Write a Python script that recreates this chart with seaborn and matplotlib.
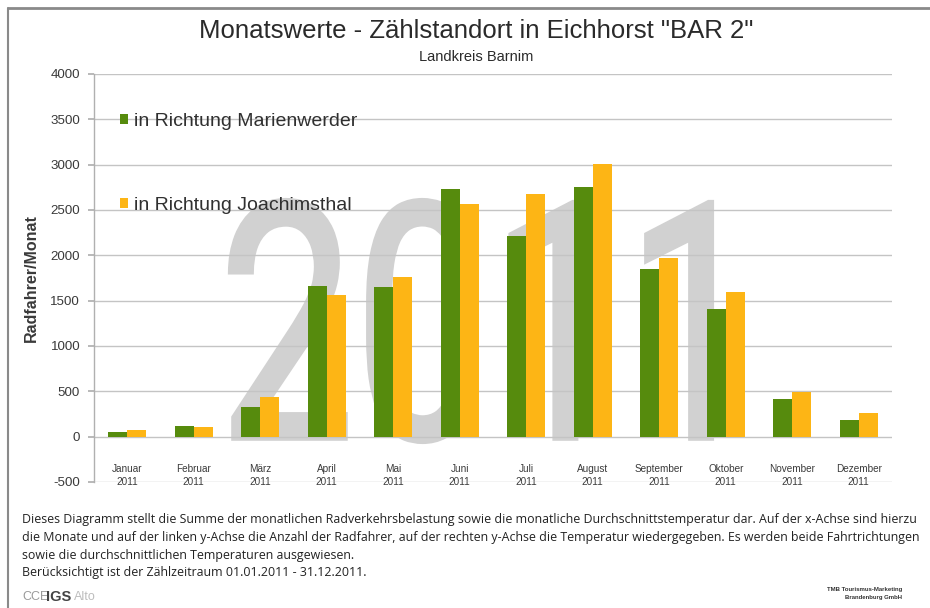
import matplotlib
matplotlib.use("Agg")
import matplotlib.pyplot as plt
from matplotlib.lines import Line2D
from matplotlib.patches import Patch, PathPatch
from matplotlib.textpath import TextPath
from matplotlib.font_manager import FontProperties
from matplotlib.transforms import Affine2D
import seaborn as sns
import pandas as pd

# Monthly cyclist counts at the Eichhorst counter, 2011
months = ["Januar", "Februar", "März", "April", "Mai", "Juni", "Juli",
          "August", "September", "Oktober", "November", "Dezember"]
year = "2011"
marienwerder = [55, 117, 323, 1660, 1655, 2728, 2212, 2750, 1850, 1405, 415, 187]
joachimsthal = [72, 110, 442, 1557, 1765, 2562, 2672, 3012, 1975, 1600, 490, 263]
series_names = ["in Richtung Marienwerder", "in Richtung Joachimsthal"]
colors = ["#568b0d", "#fdb515"]
y_ticks = list(range(-500, 4001, 500))

df = pd.DataFrame({
    "Monat": months * 2,
    "Richtung": [series_names[0]] * 12 + [series_names[1]] * 12,
    "Radfahrer": marienwerder + joachimsthal,
})

sns.set_theme(style="white")
plt.rcParams["font.family"] = ["Liberation Sans", "DejaVu Sans"]

W, H = 930, 608
fig = plt.figure(figsize=(W / 100, H / 100), dpi=100)
fig.patch.set_facecolor("white")

ax_l, ax_r, ax_t, ax_b = 94, 892, 74, 482
ax = fig.add_axes([ax_l / W, 1 - ax_b / H, (ax_r - ax_l) / W, (ax_b - ax_t) / H])
ax.set_facecolor("none")

# Large faded year behind the bars (tall, narrow lettering)
fp = FontProperties(family="Roboto", weight="normal")
tp = TextPath((0, 0), year, size=100, prop=fp)
ext = tp.get_extents()
x0, x1 = 230, 712
yb, yt = H - 442, H - 200
sx = (x1 - x0) / ext.width
sy = (yt - yb) / ext.height
tr = Affine2D().translate(-ext.x0, -ext.y0).scale(sx, sy).translate(x0, yb)
wm = PathPatch(tp, transform=tr, facecolor="#d1d1d1", edgecolor="#d1d1d1",
               linewidth=3, zorder=0.5, clip_on=False)
ax.add_patch(wm)

sns.barplot(data=df, x="Monat", y="Radfahrer", hue="Richtung",
            palette=colors, width=0.57, gap=0, saturation=1, linewidth=0,
            ax=ax, legend=False, zorder=3)

# Axis layout first: moving a spine rebuilds the ticks
ax.spines["bottom"].set_position(("data", 0))
for s in ["top", "right", "bottom"]:
    ax.spines[s].set_visible(False)
ax.spines["left"].set_color("#b0b0b0")
ax.spines["left"].set_linewidth(1.0)

ax.set_ylim(-500, 4000)
ax.set_yticks(y_ticks)
ax.set_yticklabels([str(v) for v in y_ticks])
ax.yaxis.grid(True, color="#c4c4c4", linewidth=1.0)
ax.tick_params(axis="y", length=4, color="#b0b0b0", pad=6, left=True,
               labelsize=9.6, labelcolor="#3a3a3a")
ax.set_ylabel("Radfahrer/Monat", fontsize=11.5, fontweight="bold",
              color="#3a3a3a", labelpad=8)

ax.set_xticks(range(len(months)))
ax.set_xticklabels([f"{m}\n{year}" for m in months], linespacing=1.3)
ax.tick_params(axis="x", length=0, pad=20, labelsize=7.2, labelcolor="#3a3a3a")
ax.set_xlabel("")
for gl in ax.get_ygridlines():
    gl.set_zorder(1)

handles = [Patch(facecolor=c, edgecolor="none") for c in colors]
ax.legend(handles, series_names, loc="upper left",
          bbox_to_anchor=(110 / W, 1 - 103 / H), bbox_transform=fig.transFigure,
          frameon=False, fontsize=14, handlelength=0.45, handleheight=0.45,
          handletextpad=0.3, labelspacing=3.45, borderpad=0, labelcolor="#303030")

# Titles
fig.text(476 / W, 1 - 31 / H, 'Monatswerte - Zählstandort in Eichhorst "BAR 2"',
         ha="center", va="center", fontsize=18.5, color="#2a2a2a")
fig.text(476 / W, 1 - 57 / H, "Landkreis Barnim", ha="center", va="center",
         fontsize=10.5, color="#2a2a2a")

# Description below the chart
notes = [
    "Dieses Diagramm stellt die Summe der monatlichen Radverkehrsbelastung sowie die monatliche Durchschnittstemperatur dar. Auf der x-Achse sind hierzu",
    "die Monate und auf der linken y-Achse die Anzahl der Radfahrer, auf der rechten y-Achse die Temperatur wiedergegeben. Es werden beide Fahrtrichtungen",
    "sowie die durchschnittlichen Temperaturen ausgewiesen.",
    "Berücksichtigt ist der Zählzeitraum 01.01.2011 - 31.12.2011.",
]
for i, line in enumerate(notes):
    fig.text(22 / W, 1 - (520 + i * 17.6) / H, line, ha="left", va="center",
             fontsize=8.95, color="#222222", family=["Open Sans", "DejaVu Sans"])

# Footer logos
fig.text(22 / W, 1 - 597 / H, "CCE", ha="left", va="center", fontsize=9,
         color="#9a9a9a")
fig.text(46 / W, 1 - 597 / H, "IGS", ha="left", va="center", fontsize=10.5,
         fontweight="bold", color="#444444")
fig.text(74 / W, 1 - 597 / H, "Alto", ha="left", va="center", fontsize=9,
         color="#bdbdbd")
fig.text(902 / W, 1 - 589 / H, "TMB Tourismus-Marketing", ha="right", va="center",
         fontsize=4.3, fontweight="bold", color="#333333")
fig.text(902 / W, 1 - 598 / H, "Brandenburg GmbH", ha="right", va="center",
         fontsize=4.3, fontweight="bold", color="#333333")

# Frame lines at top and left
fig.add_artist(Line2D([8 / W, 1], [1 - 8 / H, 1 - 8 / H], transform=fig.transFigure,
                      color="#8a8a8a", linewidth=2))
fig.add_artist(Line2D([8 / W, 8 / W], [0, 1 - 8 / H], transform=fig.transFigure,
                      color="#8a8a8a", linewidth=1.5))

fig.savefig("out.png", dpi=100, facecolor="white")
